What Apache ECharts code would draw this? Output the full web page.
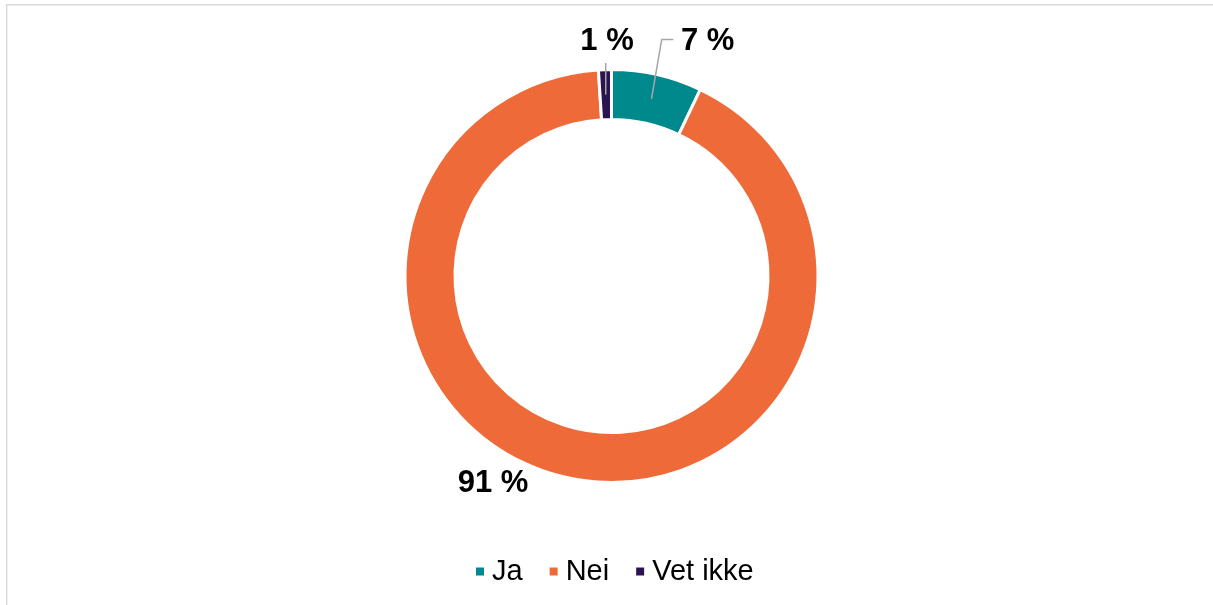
<!DOCTYPE html>
<html>
<head>
<meta charset="utf-8">
<script src="https://cdn.jsdelivr.net/npm/echarts@6/dist/echarts.min.js"></script>
<style>
  html, body { margin: 0; padding: 0; background: #fff; }
  #chart { width: 1213px; height: 605px; }
</style>
</head>
<body>
<div id="chart"></div>
<script>
const categories = ['Ja', 'Nei', 'Vet ikke'];
const values = [7, 91, 1];
const colors = ['#00898D', '#EE6A39', '#2B1551'];

const CX = 611.5, CY = 276, R_IN = 156.5, R_OUT = 206.5;
const total = values.reduce((a, b) => a + b, 0);

function midPoint(idx, r) {
  let before = 0;
  for (let i = 0; i < idx; i++) before += values[i];
  const frac = (before + values[idx] / 2) / total;
  const ang = frac * 2 * Math.PI;
  return [CX + r * Math.sin(ang), CY - r * Math.cos(ang)];
}

// label anchor placement (text layout)
const labelPos = [
  { x: 681, y: 41.5, align: 'left' },
  { x: 493, y: 483, align: 'center' },
  { x: 607, y: 41.5, align: 'center' }
];

const rMid = (R_IN + R_OUT) / 2;
const sJa = midPoint(0, rMid);
const sVet = midPoint(2, rMid);
const leaderStyle = { stroke: '#A6A6A6', lineWidth: 1.5, fill: 'none' };

const chart = echarts.init(document.getElementById('chart'), null, { renderer: 'canvas' });
chart.setOption({
  animation: false,
  backgroundColor: '#ffffff',
  color: colors,
  graphic: [{
    type: 'rect',
    shape: { x: 6.7, y: 4.7, width: 1230, height: 640 },
    style: { fill: 'none', stroke: '#D9D9D9', lineWidth: 1.4 },
    silent: true
  }, {
    type: 'polyline',
    z: 100,
    shape: { points: [sJa, [661.7, 39.5], [673.3, 39.5]] },
    style: leaderStyle,
    silent: true
  }, {
    type: 'polyline',
    z: 100,
    shape: { points: [sVet, [sVet[0], 63]] },
    style: leaderStyle,
    silent: true
  }],
  legend: {
    data: categories,
    top: 552,
    left: 471,
    icon: 'rect',
    itemWidth: 8,
    itemHeight: 8,
    itemGap: 27,
    itemStyle: { borderWidth: 0 },
    textStyle: { fontFamily: 'Liberation Sans, Arial, sans-serif', fontSize: 29, color: '#000', padding: [0, 0, 0, 3] }
  },
  series: [{
    type: 'pie',
    center: [CX, CY],
    radius: [R_IN, R_OUT],
    startAngle: 90,
    clockwise: true,
    avoidLabelOverlap: false,
    itemStyle: { borderColor: '#ffffff', borderWidth: 3 },
    label: {
      show: true,
      formatter: (p) => p.value + ' %',
      fontFamily: 'Liberation Sans, Arial, sans-serif',
      fontSize: 31,
      fontWeight: 'bold',
      color: '#000'
    },
    labelLine: { show: false },
    labelLayout: function (params) {
      const lp = labelPos[params.dataIndex];
      return { x: lp.x, y: lp.y, align: lp.align, verticalAlign: 'middle' };
    },
    data: categories.map((c, i) => ({ name: c, value: values[i] }))
  }]
});
</script>
</body>
</html>
